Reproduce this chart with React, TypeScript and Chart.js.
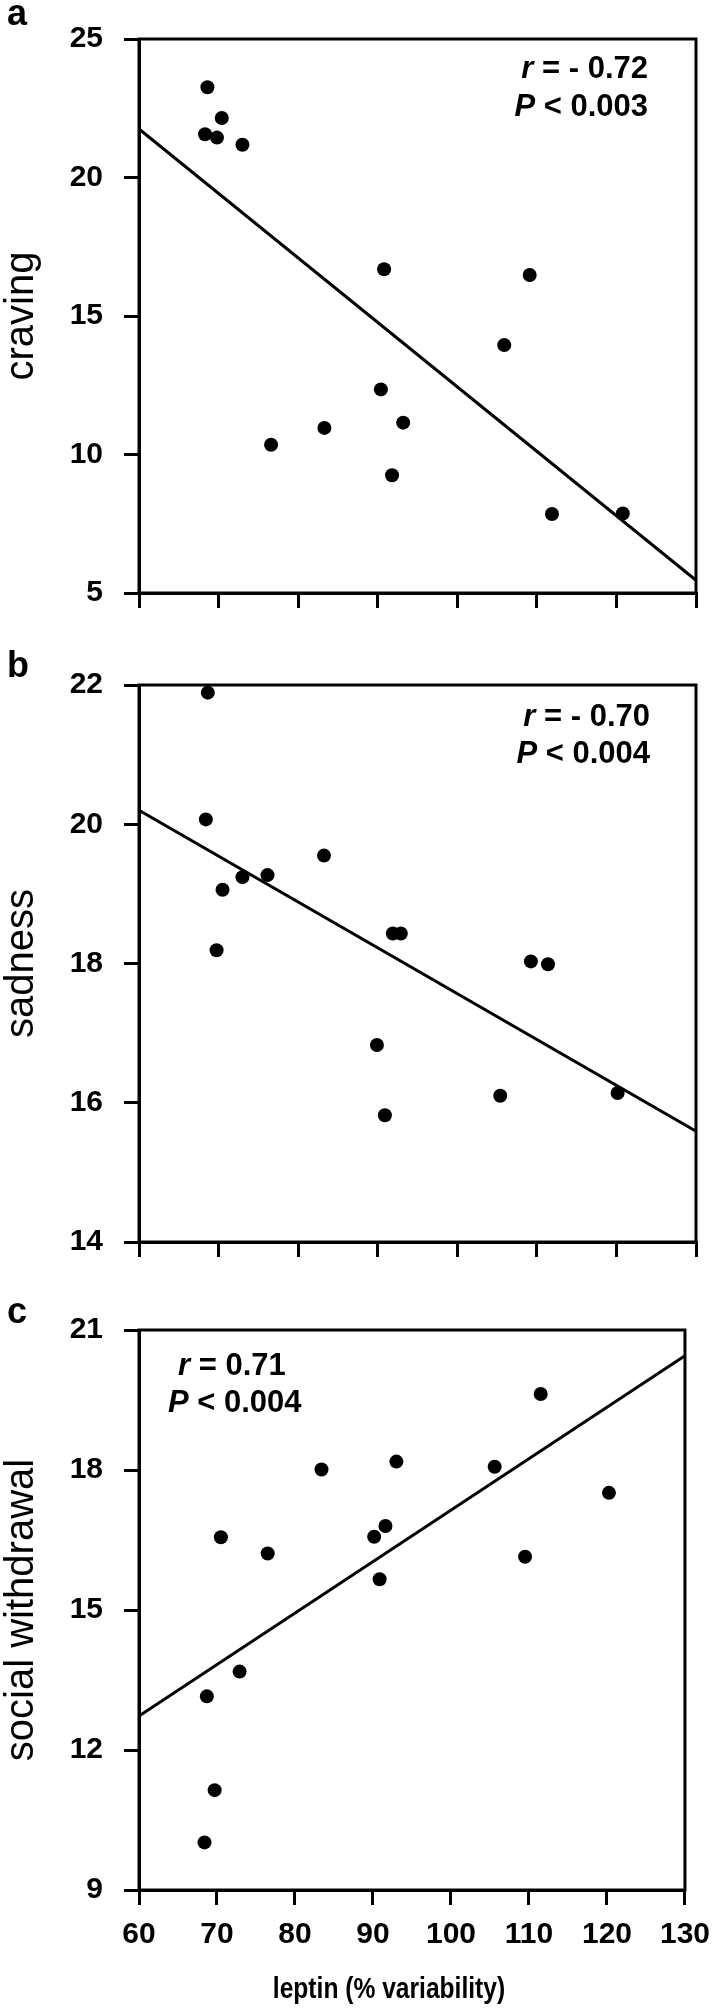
import React, { useEffect, useRef } from "react";
import { Chart, registerables } from "chart.js";
Chart.register(...registerables);

const FONT = "'Liberation Sans', Arial, Helvetica, sans-serif";

// shared x axis (leptin % variability)
const leptinTicks = [60, 70, 80, 90, 100, 110, 120, 130];
const leptinTitle = "leptin (% variability)";

// panel a: craving
const cravingLeptin = [68.6, 70.4, 68.3, 69.8, 73.0, 90.8, 109.1, 105.9, 90.4, 83.3, 76.6, 93.2, 91.8, 111.9, 120.8];
const cravingScores = [23.26, 22.15, 21.56, 21.44, 21.18, 16.69, 16.48, 13.95, 12.35, 10.96, 10.35, 11.15, 9.25, 7.85, 7.87];
const cravingFitX = [60, 130];
const cravingFitY = [21.75, 5.46];
const cravingTicks = [5, 10, 15, 20, 25];
const cravingStats = ["- 0.72", "0.003"];

// panel b: sadness
const sadnessLeptin = [68.65, 68.4, 70.5, 69.75, 73.0, 76.15, 83.25, 91.9, 92.9, 89.9, 90.9, 105.4, 109.25, 111.4, 120.15];
const sadnessScores = [21.89, 20.07, 19.06, 18.19, 19.24, 19.27, 19.55, 18.43, 18.43, 16.83, 15.82, 16.1, 18.03, 17.99, 16.14];
const sadnessFitX = [60, 130];
const sadnessFitY = [20.2, 15.59];
const sadnessTicks = [14, 16, 18, 20, 22];
const sadnessStats = ["- 0.70", "0.004"];

// panel c: social withdrawal
const withdrawalLeptin = [111.5, 83.4, 93.0, 105.6, 120.25, 70.5, 76.5, 90.15, 91.6, 90.85, 109.5, 72.9, 68.7, 69.7, 68.4];
const withdrawalScores = [19.63, 18.01, 18.18, 18.07, 17.51, 16.56, 16.21, 16.57, 16.8, 15.66, 16.14, 13.68, 13.15, 11.14, 10.02];
const withdrawalFitX = [60, 130];
const withdrawalFitY = [12.73, 20.45];
const withdrawalTicks = [9, 12, 15, 18, 21];
const withdrawalStats = ["0.71", "0.004"];

type AnnLine = { italic: string; rest: string; x: number; y: number; align: "left" | "right" };

type PanelSpec = {
  letter: string;
  letterY: number;
  top: number;
  height: number;
  padTop: number;
  padBottom: number;
  xHeight: number;
  showXLabels: boolean;
  yTitle: string;
  xs: number[];
  ys: number[];
  fitX: number[];
  fitY: number[];
  yTicks: number[];
  ann: AnnLine[];
  xTitle?: string;
  xTitleY?: number;
};

const panels: PanelSpec[] = [
  {
    letter: "a", letterY: 25, top: 0, height: 640, padTop: 33, padBottom: 17, xHeight: 30,
    showXLabels: false, yTitle: "craving", xs: cravingLeptin, ys: cravingScores,
    fitX: cravingFitX, fitY: cravingFitY, yTicks: cravingTicks,
    ann: [
      { italic: "r", rest: " = " + cravingStats[0], x: 648, y: 78, align: "right" },
      { italic: "P", rest: " < " + cravingStats[1], x: 648, y: 116, align: "right" },
    ],
  },
  {
    letter: "b", letterY: 37, top: 640, height: 650, padTop: 45, padBottom: 18, xHeight: 30,
    showXLabels: false, yTitle: "sadness", xs: sadnessLeptin, ys: sadnessScores,
    fitX: sadnessFitX, fitY: sadnessFitY, yTicks: sadnessTicks,
    ann: [
      { italic: "r", rest: " = " + sadnessStats[0], x: 650, y: 86, align: "right" },
      { italic: "P", rest: " < " + sadnessStats[1], x: 650, y: 123, align: "right" },
    ],
  },
  {
    letter: "c", letterY: 33, top: 1290, height: 722, padTop: 40, padBottom: 0, xHeight: 122,
    showXLabels: true, yTitle: "social withdrawal", xs: withdrawalLeptin, ys: withdrawalScores,
    fitX: withdrawalFitX, fitY: withdrawalFitY, yTicks: withdrawalTicks,
    ann: [
      { italic: "r", rest: " = " + withdrawalStats[0], x: 178, y: 85, align: "left" },
      { italic: "P", rest: " < " + withdrawalStats[1], x: 168, y: 122, align: "left" },
    ],
    xTitle: leptinTitle, xTitleY: 708,
  },
];

const WIDTH = 722;
const PLOT_LEFT = 139;
const PLOT_RIGHT = 696;

function Panel({ spec }: { spec: PanelSpec }) {
  const ref = useRef<HTMLCanvasElement | null>(null);
  useEffect(() => {
    if (!ref.current) return;
    const decor = {
      id: "decor" + spec.letter,
      afterDraw(chart: any) {
        const { ctx, chartArea: ca } = chart;
        ctx.save();
        ctx.strokeStyle = "#000";
        ctx.lineWidth = 3;
        ctx.strokeRect(ca.left, ca.top, ca.right - ca.left, ca.bottom - ca.top);
        ctx.fillStyle = "#000";
        ctx.textBaseline = "alphabetic";
        ctx.textAlign = "left";
        ctx.font = `bold 36px ${FONT}`;
        ctx.fillText(spec.letter, 7, spec.letterY);
        for (const l of spec.ann) {
          const fi = `italic bold 31px ${FONT}`;
          const fb = `bold 31px ${FONT}`;
          ctx.font = fi;
          const wi = ctx.measureText(l.italic).width;
          ctx.font = fb;
          const wr = ctx.measureText(l.rest).width;
          const sx = l.align === "right" ? l.x - wi - wr : l.x;
          ctx.font = fi;
          ctx.fillText(l.italic, sx, l.y);
          ctx.font = fb;
          ctx.fillText(l.rest, sx + wi, l.y);
        }
        if (spec.xTitle) {
          ctx.save();
          ctx.font = `bold 30px ${FONT}`;
          ctx.textAlign = "center";
          ctx.translate(389, spec.xTitleY || 0);
          ctx.scale(0.82, 1);
          ctx.fillText(spec.xTitle, 0, 0);
          ctx.restore();
        }
        ctx.restore();
      },
    };
    const yt = spec.yTicks;
    const chart = new Chart(ref.current, {
      type: "scatter",
      data: {
        datasets: [
          {
            data: spec.fitX.map((x, i) => ({ x, y: spec.fitY[i] })),
            showLine: true,
            borderColor: "#000",
            borderWidth: 3,
            pointRadius: 0,
            fill: false,
          },
          {
            data: spec.xs.map((x, i) => ({ x, y: spec.ys[i] })),
            pointRadius: 7,
            pointBackgroundColor: "#000",
            pointBorderWidth: 0,
            backgroundColor: "#000",
            borderColor: "#000",
          },
        ],
      },
      options: {
        animation: false,
        responsive: false,
        devicePixelRatio: 1,
        layout: { padding: { left: 0, right: WIDTH - PLOT_RIGHT, top: spec.padTop, bottom: spec.padBottom } },
        plugins: { legend: { display: false }, tooltip: { enabled: false } },
        scales: {
          x: {
            type: "linear",
            min: leptinTicks[0],
            max: leptinTicks[leptinTicks.length - 1],
            afterFit: (s: any) => { s.height = spec.xHeight; },
            ticks: {
              stepSize: leptinTicks[1] - leptinTicks[0],
              display: spec.showXLabels,
              color: "#000",
              padding: 12,
              maxRotation: 0,
              font: { family: FONT, size: 30, weight: "bold" },
            },
            grid: { drawOnChartArea: false, drawTicks: true, tickLength: 15, tickWidth: 3, lineWidth: 3, color: "#000" },
            border: { display: true, color: "#000", width: 3 },
          },
          y: {
            type: "linear",
            min: yt[0],
            max: yt[yt.length - 1],
            afterFit: (s: any) => { s.width = PLOT_LEFT; },
            ticks: {
              stepSize: yt[1] - yt[0],
              color: "#000",
              padding: 21,
              font: { family: FONT, size: 30, weight: "bold" },
            },
            grid: { drawOnChartArea: false, drawTicks: true, tickLength: 15, tickWidth: 3, lineWidth: 3, color: "#000" },
            border: { display: true, color: "#000", width: 3 },
            title: {
              display: true,
              text: spec.yTitle,
              color: "#000",
              font: { family: FONT, size: 40, weight: "normal", lineHeight: 1 },
              padding: { top: 2, bottom: 0 },
            },
          },
        },
      },
      plugins: [decor],
    } as any);
    return () => chart.destroy();
  }, [spec]);
  return (
    <canvas
      ref={ref}
      width={WIDTH}
      height={spec.height}
      style={{ position: "absolute", left: 0, top: spec.top, width: WIDTH, height: spec.height }}
    />
  );
}

export default function App() {
  return (
    <div style={{ position: "absolute", left: 0, top: 0, width: WIDTH, height: 2012, background: "#fff", overflow: "hidden" }}>
      {panels.map((p) => (
        <Panel key={p.letter} spec={p} />
      ))}
    </div>
  );
}
